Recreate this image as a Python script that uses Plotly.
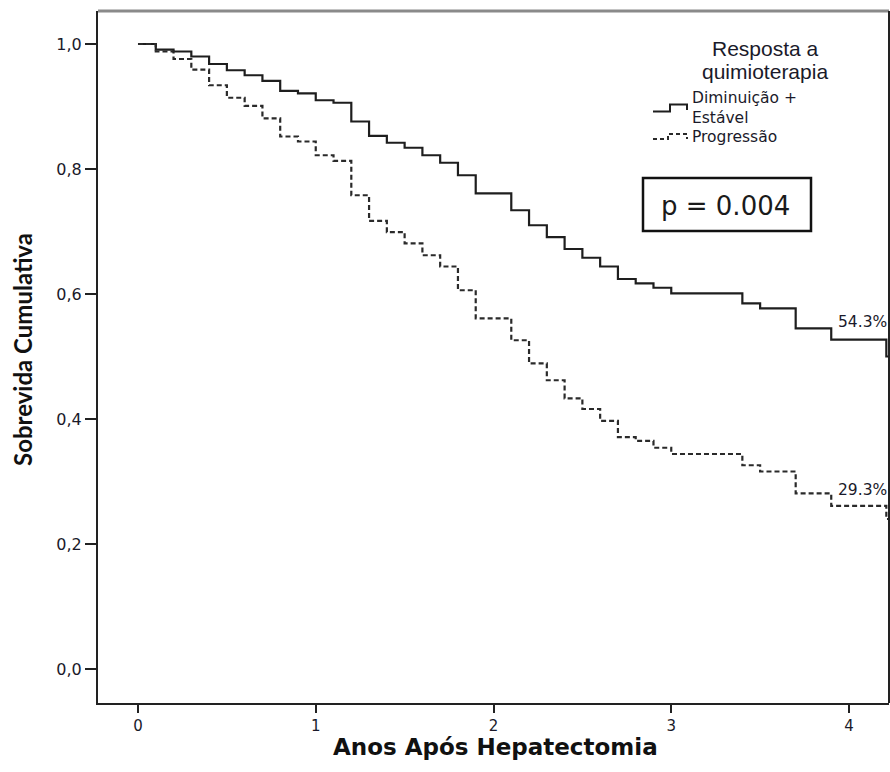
import plotly.graph_objects as go

# ---- data ----
t_dim = [0.0, 0.1, 0.2, 0.3, 0.4, 0.5, 0.6, 0.7, 0.8, 0.9, 1.0, 1.1, 1.2, 1.3, 1.4, 1.5,
         1.6, 1.7, 1.8, 1.9, 2.1, 2.2, 2.3, 2.4, 2.5, 2.6, 2.7, 2.8, 2.9, 3.0, 3.4, 3.5,
         3.7, 3.9, 4.21, 4.23]
s_dim = [1.000, 0.991, 0.988, 0.980, 0.968, 0.958, 0.950, 0.941, 0.925, 0.921, 0.910,
         0.906, 0.876, 0.853, 0.842, 0.834, 0.822, 0.810, 0.790, 0.761, 0.734, 0.710,
         0.691, 0.672, 0.658, 0.644, 0.624, 0.617, 0.610, 0.601, 0.585, 0.577, 0.545,
         0.527, 0.500, 0.500]

t_prog = [0.0, 0.1, 0.2, 0.3, 0.4, 0.5, 0.6, 0.7, 0.8, 0.9, 1.0, 1.1, 1.2, 1.3, 1.4, 1.5,
          1.6, 1.7, 1.8, 1.9, 2.1, 2.2, 2.3, 2.4, 2.5, 2.6, 2.7, 2.8, 2.9, 3.0, 3.4, 3.5,
          3.7, 3.9, 4.21, 4.23]
s_prog = [1.000, 0.988, 0.976, 0.959, 0.934, 0.914, 0.901, 0.881, 0.852, 0.844, 0.822,
          0.813, 0.758, 0.717, 0.699, 0.681, 0.662, 0.644, 0.606, 0.561, 0.526, 0.489,
          0.462, 0.433, 0.416, 0.397, 0.371, 0.365, 0.354, 0.344, 0.326, 0.316, 0.281,
          0.261, 0.240, 0.240]

series_names = ["Diminuição +<br>Estável", "Progressão"]
end_labels = ["54.3%", "29.3%"]
end_label_x = [3.925, 3.925]
end_label_y = [0.556, 0.286]

x_ticks = [0, 1, 2, 3, 4]
x_ticklabels = ["0", "1", "2", "3", "4"]
y_ticks = [0.0, 0.2, 0.4, 0.6, 0.8, 1.0]
y_ticklabels = ["0,0", "0,2", "0,4", "0,6", "0,8", "1,0"]

p_text = "p = 0.004"
legend_title = ["Resposta a", "quimioterapia"]
x_title = "Anos Após Hepatectomia"
y_title = "Sobrevida Cumulativa"

# ---- figure ----
W, H = 890, 772
ML, MR, MT, MB = 98, 1, 11, 69
PW, PH = W - ML - MR, H - MT - MB


def px(x):
    return (x - ML) / PW


def py(y):
    return (H - MB - y) / PH


fig = go.Figure()
fig.add_trace(go.Scatter(x=t_dim, y=s_dim, mode="lines", line_shape="hv",
                         line=dict(color="#1e1e1e", width=2.2), name=series_names[0],
                         hoverinfo="skip"))
fig.add_trace(go.Scatter(x=t_prog, y=s_prog, mode="lines", line_shape="hv",
                         line=dict(color="#2a2a2a", width=2.2, dash="5px,3px"),
                         name=series_names[1], hoverinfo="skip"))

annotations = []
for lab, lx, ly in zip(end_labels, end_label_x, end_label_y):
    annotations.append(dict(x=lx, y=ly, xref="x", yref="y", text=lab, showarrow=False,
                            xanchor="left", yanchor="middle",
                            font=dict(family="DejaVu Sans", size=15.5, color="#1a1a2a")))

# axis titles
annotations.append(dict(x=px(495), y=py(747), xref="paper", yref="paper", text=x_title,
                        showarrow=False, xanchor="center", yanchor="middle",
                        font=dict(family="DejaVu Sans", size=23, color="#111111",
                                  weight="bold")))
annotations.append(dict(x=px(22), y=py(350), xref="paper", yref="paper", text=y_title,
                        showarrow=False, xanchor="center", yanchor="middle", textangle=-90,
                        font=dict(family="Lato", size=24, color="#111111", weight="bold")))

# legend title
annotations.append(dict(x=px(765), y=py(49), xref="paper", yref="paper", text=legend_title[0],
                        showarrow=False, xanchor="center", yanchor="middle",
                        font=dict(family="Liberation Sans", size=21, color="#1a1a2a")))
annotations.append(dict(x=px(765), y=py(71), xref="paper", yref="paper", text=legend_title[1],
                        showarrow=False, xanchor="center", yanchor="middle",
                        font=dict(family="Liberation Sans", size=21, color="#1a1a2a")))
# legend items
leg_font = dict(family="DejaVu Sans", size=15.5, color="#1a1a2a")
annotations.append(dict(x=px(690), y=py(98.5), xref="paper", yref="paper",
                        text=series_names[0].split("<br>")[0], showarrow=False,
                        xanchor="left", yanchor="middle", font=leg_font))
annotations.append(dict(x=px(690), y=py(118), xref="paper", yref="paper",
                        text=series_names[0].split("<br>")[1], showarrow=False,
                        xanchor="left", yanchor="middle", font=leg_font))
annotations.append(dict(x=px(690), y=py(137), xref="paper", yref="paper",
                        text=series_names[1], showarrow=False,
                        xanchor="left", yanchor="middle", font=leg_font))
# p value
annotations.append(dict(x=px(725), y=py(206), xref="paper", yref="paper", text=p_text,
                        showarrow=False, xanchor="center", yanchor="middle",
                        font=dict(family="DejaVu Sans", size=26, color="#1a1a1a")))


def path(points):
    s = "M " + " L ".join(f"{px(a):.5f},{py(b):.5f}" for a, b in points)
    return s


shapes = [
    # top frame (gray) and right frame (black)
    dict(type="line", xref="paper", yref="paper", x0=0, x1=1, y0=1, y1=1,
         line=dict(color="#8a8a8a", width=3)),
    dict(type="line", xref="paper", yref="paper", x0=1, x1=1, y0=0, y1=1,
         line=dict(color="#222222", width=2)),
    # legend symbols
    dict(type="path", xref="paper", yref="paper",
         path=path([(653, 111.5), (670, 111.5), (670, 104.5), (687, 104.5), (687, 110)]),
         line=dict(color="#1e1e1e", width=2)),
    dict(type="path", xref="paper", yref="paper",
         path=path([(653, 139), (668, 139), (668, 134), (687, 134), (687, 139)]),
         line=dict(color="#2a2a2a", width=2, dash="4px,3px")),
    # p-value box
    dict(type="rect", xref="paper", yref="paper", x0=px(643), x1=px(811),
         y0=py(231), y1=py(178), line=dict(color="#111111", width=2.5)),
]

fig.update_layout(
    width=W, height=H,
    margin=dict(l=ML, r=MR, t=MT, b=MB, autoexpand=False),
    paper_bgcolor="white", plot_bgcolor="white",
    showlegend=False,
    annotations=annotations,
    shapes=shapes,
    xaxis=dict(range=[-0.225, 4.225], tickvals=x_ticks, ticktext=x_ticklabels,
               showgrid=False, zeroline=False, showline=True, linecolor="#222222",
               linewidth=2, ticks="outside", ticklen=8, tickwidth=2, tickcolor="#222222",
               tickfont=dict(family="DejaVu Sans", size=15, color="#1a1a2a")),
    yaxis=dict(range=[-0.0544, 1.0528], tickvals=y_ticks, ticktext=y_ticklabels,
               showgrid=False, zeroline=False, showline=True, linecolor="#222222",
               linewidth=2, ticks="outside", ticklen=11, tickwidth=2, tickcolor="#222222",
               tickfont=dict(family="DejaVu Sans", size=16, color="#1a1a2a")),
)

fig.write_html("out.html", config={"displayModeBar": False},
               post_script="document.body.style.margin='0px';")
